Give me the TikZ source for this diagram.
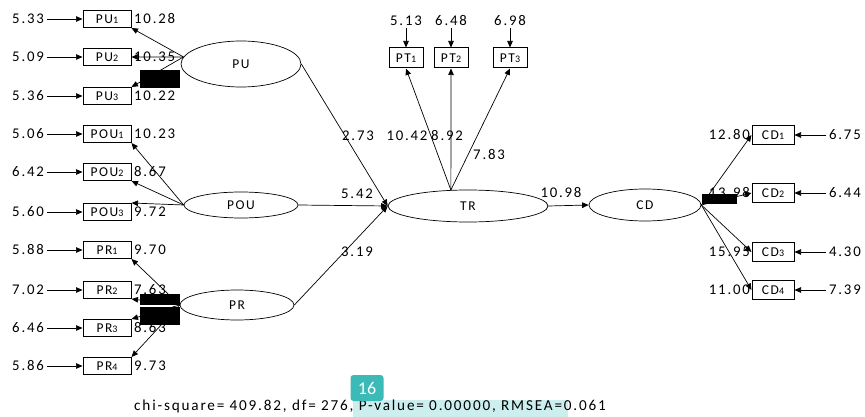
\documentclass[tikz,border=0pt]{standalone}
\usepackage{fontspec}
\setmainfont{Carlito}[LetterSpace=12]
\newfontfamily\badgefont{Carlito}
\usetikzlibrary{arrows.meta,shapes.geometric}
\newcommand\ix[1]{{\fontsize{10}{10}\selectfont #1}}
\tikzset{
  obs/.style={draw, line width=1pt, minimum width=48pt, minimum height=17pt, inner sep=0pt, font=\fontsize{13.5}{13.5}\selectfont},
  ptbox/.style={obs, minimum width=34pt, minimum height=20pt},
  cdbox/.style={obs, minimum width=42pt, minimum height=19pt},
  lat/.style={draw, ellipse, line width=0.7pt, inner sep=0pt, font=\fontsize{13.5}{13.5}\selectfont},
  val/.style={inner sep=0pt, font=\fontsize{14.8}{14.8}\selectfont},
  arr/.style={-{Triangle[length=6.5pt,width=5.5pt]}, line width=0.7pt},
  blk/.style={fill=black, draw=none},
}
\begin{document}
\begin{tikzpicture}[x=1pt,y=-1pt]
\useasboundingbox (0,0) rectangle (865,417);
% observed, left
\foreach \n/\t/\y/\e/\l in {PUa/PU\ix{1}/19/5.33/10.28, PUb/PU\ix{2}/57/5.09/10.35, PUc/PU\ix{3}/96/5.36/10.22,
  POUa/POU\ix{1}/134/5.06/10.23, POUb/POU\ix{2}/172/6.42/8.67, POUc/POU\ix{3}/212/5.60/9.72,
  PRa/PR\ix{1}/250/5.88/9.70, PRb/PR\ix{2}/290/7.02/7.63, PRc/PR\ix{3}/328/6.46/8.63, PRd/PR\ix{4}/366/5.86/9.73}{
  \node[obs] (\n) at (107,\y) {\t};
  \node[val, anchor=east] (\n e) at (44,\y) {\e};
  \node[val, anchor=west] (\n l) at (134,\y) {\l};
  \draw[arr] (\n e.east) ++(3,0) coordinate (\n s) (\n s) -- (\n.west);
}
% latent
\node[lat, minimum width=120pt, minimum height=46pt] (PU) at (241,64) {PU};
\node[lat, minimum width=114pt, minimum height=26pt] (POU) at (241,205) {POU};
\node[lat, minimum width=114pt, minimum height=30pt] (PR) at (237,305) {PR};
\node[lat, minimum width=160pt, minimum height=32pt] (TR) at (468,206) {TR};
\node[lat, minimum width=112pt, minimum height=32pt] (CD) at (645,205) {CD};
% loadings left
\draw[arr] (PU.173) -- (PUa.south east);
\draw[arr] (PU.173) -- (PUb.east);
\draw[arr] (PU.173) -- (PUc.north east);
\draw[arr] (POU.west) -- (POUa.south east);
\draw[arr] (POU.west) -- (POUb.south east);
\draw[arr] (POU.west) -- (POUc.north east);
\draw[arr] (PR.west) -- (PRa.south east);
\draw[arr] (PR.west) -- (PRb.south east);
\draw[arr] (PR.west) -- (PRc.north east);
\draw[arr] (PR.west) -- (PRd.north east);
% structural
\draw[arr] (PU.east) -- (TR.west);
\draw[arr] (POU.east) -- (TR.west);
\draw[arr] (PR.east) -- (TR.west);
\draw[arr] (TR.east) -- (CD.west);
\node[val] (l1) at (358,136) {2.73};
\node[val] (l2) at (357,194) {5.42};
\node[val] (l3) at (357,252) {3.19};
\node[val] (l4) at (561,193) {10.98};
% PT
\foreach \n/\t/\x/\e/\l/\lx/\ly in {PTa/PT\ix{1}/406/5.13/10.42/407/136, PTb/PT\ix{2}/451/6.48/8.92/447/136, PTc/PT\ix{3}/510/6.98/7.83/489/155}{
  \node[ptbox] (\n) at (\x,58) {\t};
  \node[val] (\n e) at (\x,21) {\e};
  \draw[arr] (\n e.south) ++(0,2) coordinate (\n s) (\n s) -- (\n.north);
  \draw[arr] (TR.137) -- (\n.south);
  \node[val] (\n l) at (\lx,\ly) {\l};
}
% CD
\foreach \n/\t/\y/\e/\l in {CDa/CD\ix{1}/135/6.75/12.80, CDb/CD\ix{2}/193/6.44/13.98, CDc/CD\ix{3}/252/4.30/15.95, CDd/CD\ix{4}/290/7.39/11.00}{
  \node[cdbox] (\n) at (773,\y) {\t};
  \node[val, anchor=west] (\n e) at (829,\y) {\e};
  \node[val, anchor=east] (\n l) at (750,\y) {\l};
  \draw[arr] (\n e.west) ++(-3,0) coordinate (\n s) (\n s) -- (\n.east);
  \draw[arr] (CD.east) -- (\n.west);
}
% black boxes
\fill[blk] (140,70) rectangle (180,88);
\fill[blk] (140,294) rectangle (180,305);
\fill[blk] (140,307) rectangle (180,325);
\fill[blk] (702,194) rectangle (737,204);
% footer
\fill[fill={rgb,255:red,204;green,238;blue,238}] (353,400) rectangle (568,417);
\node[val, anchor=west, font=\fontsize{15.2}{15.2}\selectfont] (fit) at (134,406) {chi-square= 409.82,\ df= 276,\ P-value= 0.00000,\ RMSEA=0.061};
\node[fill={rgb,255:red,59;green,186;blue,184}, rounded corners=3pt, minimum width=33pt, minimum height=26pt, text=white, font=\badgefont\fontsize{18}{18}\selectfont, inner sep=0pt] (badge) at (367,388) {16};
\end{tikzpicture}
\end{document}
